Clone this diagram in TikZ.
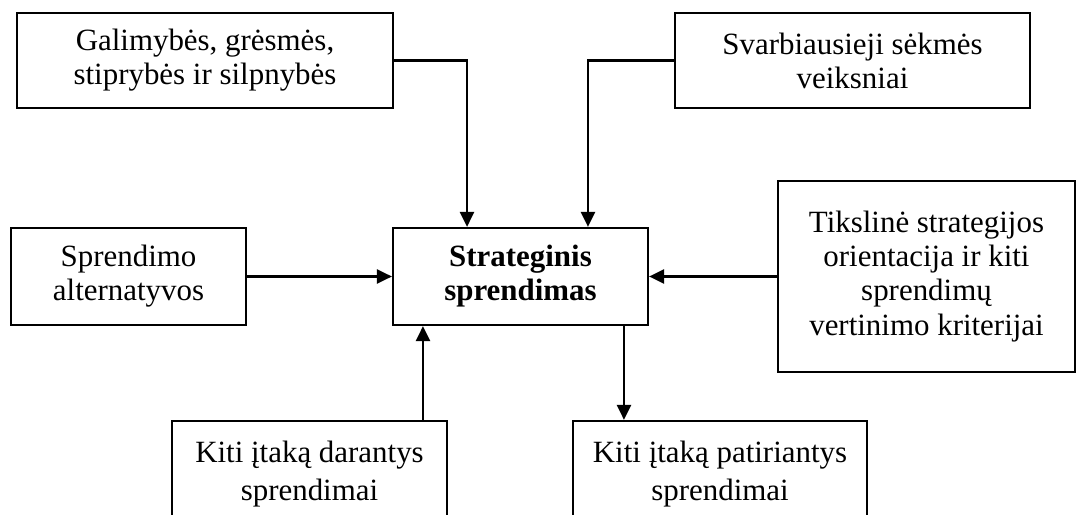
\documentclass[tikz,border=0pt]{standalone}
\usepackage{fontspec}
\setmainfont{Liberation Serif}
\usetikzlibrary{arrows.meta}

\begin{document}
\begin{tikzpicture}[x=0.02cm,y=0.02cm,
  box/.style={draw,line width=1.3pt,align=center,inner sep=0pt,font=\fontsize{17.6}{19.4}\selectfont},
  arr/.style={-{Triangle[length=8.5pt,width=8pt]},line width=1.3pt}]
 \clip (0,0) rectangle (1077,514);
 % upper row
 \node[box,minimum width=7.52cm,minimum height=1.9cm] (galim) at (205,453.5) {Galimybės, grėsmės,\\stiprybės ir silpnybės};
 \node[box,minimum width=7.1cm,minimum height=1.9cm] (svarb) at (852.5,453.5) {Svarbiausieji sėkmės\\veiksniai};
 % middle row
 \node[box,minimum width=4.7cm,minimum height=1.94cm] (alt) at (128.5,237.5) {Sprendimo\\alternatyvos};
 \node[box,minimum width=5.1cm,minimum height=1.94cm] (strat) at (520.5,237.5) {\textbf{Strateginis}\\\textbf{sprendimas}};
 \node[box,minimum width=5.94cm,minimum height=3.82cm] (tiksl) at (926.5,237.5) {Tikslinė strategijos\\orientacija ir kiti\\sprendimų\\vertinimo kriterijai};
 % lower row
 \node[box,minimum width=5.5cm,minimum height=2.12cm] (darant) at (309.5,40) {Kiti įtaką darantys\\[2pt]sprendimai};
 \node[box,minimum width=5.88cm,minimum height=2.12cm] (patir) at (720,40) {Kiti įtaką patiriantys\\[2pt]sprendimai};
 % connectors
 \draw[arr] (galim.east) -| ([xshift=-1.07cm]strat.north);
 \draw[arr] (svarb.west) -| ([xshift=1.35cm]strat.north);
 \draw[arr] (alt.east) -- (strat.west);
 \draw[arr] (tiksl.west) -- (strat.east);
 \draw[arr] ([xshift=2.27cm]darant.north) -- ([xshift=2.27cm]darant.north |- strat.south);
 \draw[arr] ([xshift=2.07cm]strat.south) -- ([xshift=2.07cm]strat.south |- patir.north);
\end{tikzpicture}
\end{document}
